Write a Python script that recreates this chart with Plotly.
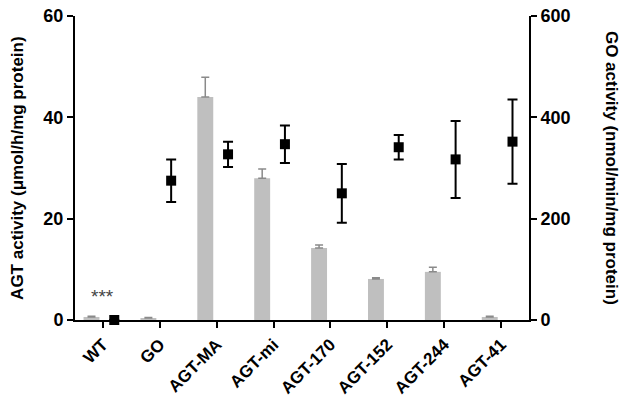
import plotly.graph_objects as go

labels = ["WT", "GO", "AGT-MA", "AGT-mi", "AGT-170", "AGT-152", "AGT-244", "AGT-41"]

# AGT activity (left axis, grey bars), upper error only
agt = [0.6, 0.4, 44.0, 28.0, 14.2, 8.1, 9.5, 0.6]
agt_err = [0.15, 0.1, 3.9, 1.8, 0.6, 0.25, 0.9, 0.15]

# GO activity (right axis, black squares)
go_act = [0, 275, 327, 347, 250, 341, 317, 352]
go_err = [0, 42, 25, 37, 58, 24, 76, 83]

xs = list(range(len(labels)))
FONT = "Liberation Sans, Arial, sans-serif"

fig = go.Figure()
fig.add_trace(go.Bar(
    x=[x - 0.2 for x in xs],
    y=agt,
    width=0.28,
    marker=dict(color="#bfbfbf", line=dict(width=0)),
    error_y=dict(type="data", symmetric=False, array=agt_err,
                 arrayminus=[0] * len(agt), color="#8a8a8a", thickness=1.5, width=4),
    yaxis="y",
))
fig.add_trace(go.Scatter(
    x=[x + 0.2 for x in xs],
    y=go_act,
    mode="markers",
    marker=dict(symbol="square", size=10, color="black"),
    error_y=dict(type="data", array=go_err, color="black", thickness=2, width=5),
    cliponaxis=False,
    yaxis="y2",
))

axis_common = dict(
    showline=True, linecolor="black", linewidth=2,
    ticks="outside", ticklen=6, tickwidth=2, tickcolor="black",
    showgrid=False, zeroline=False, automargin=False,
    tickfont=dict(size=18, weight="bold", family=FONT),
)

fig.update_layout(
    width=624, height=405,
    margin=dict(l=75, r=95, t=16, b=85),
    plot_bgcolor="white", paper_bgcolor="white",
    showlegend=False,
    font=dict(family=FONT, color="black"),
    xaxis=dict(axis_common, range=[-0.49, 7.49], tickvals=xs, ticktext=labels,
               tickangle=-45, tickfont=dict(size=17, weight="bold", family=FONT)),
    yaxis=dict(axis_common, range=[0, 60], tickvals=[0, 20, 40, 60]),
    yaxis2=dict(axis_common, range=[0, 600], tickvals=[0, 200, 400, 600],
                overlaying="y", side="right"),
    annotations=[
        dict(text="***", x=0, y=4.6, xref="x", yref="y", showarrow=False,
             font=dict(size=19, color="#444444")),
        dict(text="<b>AGT activity (μmol/h/mg protein)</b>", x=-0.128, y=0.5,
             xref="paper", yref="paper", xanchor="center", yanchor="middle",
             textangle=-90, showarrow=False, font=dict(size=17)),
        dict(text="<b>GO activity (nmol/min/mg protein)</b>", x=1.183, y=0.5,
             xref="paper", yref="paper", xanchor="center", yanchor="middle",
             textangle=90, showarrow=False, font=dict(size=17)),
    ],
)

# drop the default page margin so the figure sits at the window's corner
fig.write_html("out.html", config={"displayModeBar": False},
               post_script="document.body.style.margin='0px';")
